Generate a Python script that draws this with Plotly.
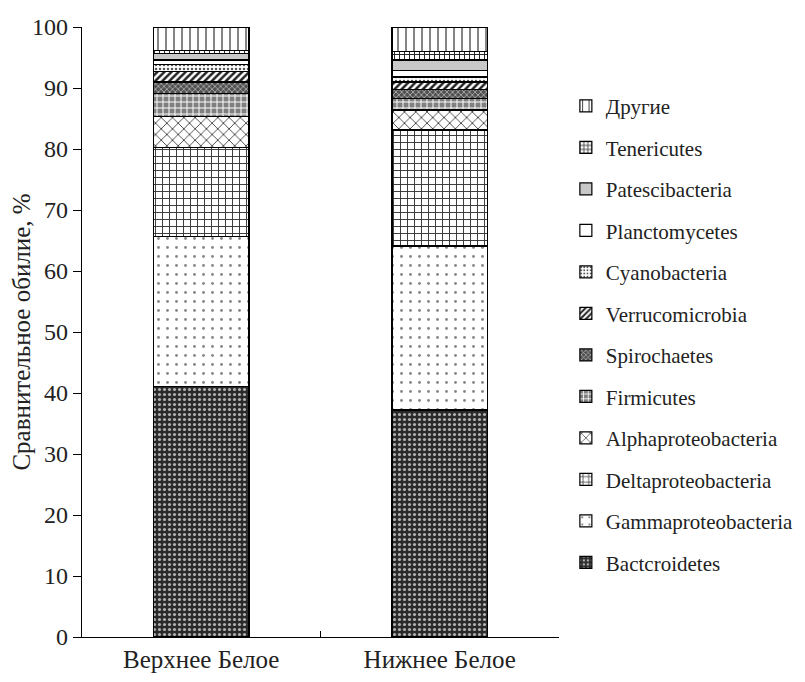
import plotly.graph_objects as go

categories = ["Верхнее Белое", "Нижнее Белое"]
taxa = ["Bactcroidetes", "Gammaproteobacteria", "Deltaproteobacteria", "Alphaproteobacteria",
        "Firmicutes", "Spirochaetes", "Verrucomicrobia", "Cyanobacteria",
        "Planctomycetes", "Patescibacteria", "Tenericutes", "Другие"]
bactcroidetes = [41.1, 37.2]
gammaproteobacteria = [24.5, 26.9]
deltaproteobacteria = [14.6, 19.0]
alphaproteobacteria = [5.1, 3.3]
firmicutes = [3.8, 1.9]
spirochaetes = [1.9, 1.4]
verrucomicrobia = [1.7, 1.3]
cyanobacteria = [1.1, 0.8]
planctomycetes = [0.8, 1.1]
patescibacteria = [1.1, 1.7]
tenericutes = [0.5, 1.4]
drugie = [3.8, 4.0]
values = [bactcroidetes, gammaproteobacteria, deltaproteobacteria, alphaproteobacteria,
          firmicutes, spirochaetes, verrucomicrobia, cyanobacteria,
          planctomycetes, patescibacteria, tenericutes, drugie]

patterns = [
    dict(shape=".", bgcolor="#2a2a2a", fgcolor="#b0b0b0", size=5, solidity=0.3),
    dict(shape=".", bgcolor="white", fgcolor="#888888", size=9, solidity=0.08),
    dict(shape="+", bgcolor="white", fgcolor="#333333", size=7, solidity=0.25),
    dict(shape="x", bgcolor="white", fgcolor="#333333", size=8, solidity=0.2),
    dict(shape="+", bgcolor="#808080", fgcolor="white", size=6, solidity=0.3),
    dict(shape="x", bgcolor="#505050", fgcolor="#cccccc", size=4, solidity=0.3),
    dict(shape="/", bgcolor="white", fgcolor="#222222", size=5, solidity=0.5),
    dict(shape=".", bgcolor="white", fgcolor="#555555", size=4, solidity=0.3),
    dict(shape="", bgcolor="white", fgcolor="white"),
    dict(shape="", bgcolor="#c8c8c8", fgcolor="#c8c8c8"),
    dict(shape="+", bgcolor="white", fgcolor="#222222", size=5, solidity=0.35),
    dict(shape="|", bgcolor="white", fgcolor="#333333", size=8, solidity=0.15),
]

fig = go.Figure()
n = len(taxa)
for i, (name, vals, pat) in enumerate(zip(taxa, values, patterns)):
    fig.add_trace(go.Bar(
        x=categories, y=vals, name=name, legendgroup=name, legendrank=n - i,
        width=0.4,
        marker=dict(color=pat["bgcolor"], pattern=dict(fillmode="replace", **pat),
                    line=dict(color="black", width=1.2)),
    ))

font = "Liberation Serif, Times New Roman, serif"
fig.update_layout(
    barmode="stack",
    width=805, height=682,
    margin=dict(l=74, r=254, t=19, b=53),
    plot_bgcolor="white", paper_bgcolor="white",
    font=dict(family=font, size=24, color="#222222"),
    legend=dict(xref="container", x=0.693, xanchor="left", yref="container", y=0.886, yanchor="top",
                traceorder="grouped", tracegroupgap=11.2, maxheight=680,
                font=dict(family=font, size=21, color="#222222"),
                bgcolor="rgba(0,0,0,0)"),
    xaxis=dict(showline=True, linecolor="black", linewidth=1.2, ticks="inside",
               tickson="boundaries", ticklen=6, tickcolor="black",
               range=[-0.5, 1.5], showgrid=False, automargin=False,
               tickfont=dict(size=25)),
    yaxis=dict(range=[0, 100], dtick=10, showline=True, linecolor="black", linewidth=1.2,
               ticks="outside", ticklen=8, tickcolor="black", showgrid=False, zeroline=False,
               automargin=False,
               title=dict(text="Сравнительное обилие, %", standoff=10, font=dict(size=25))),
)
fig.write_html("out.html")
